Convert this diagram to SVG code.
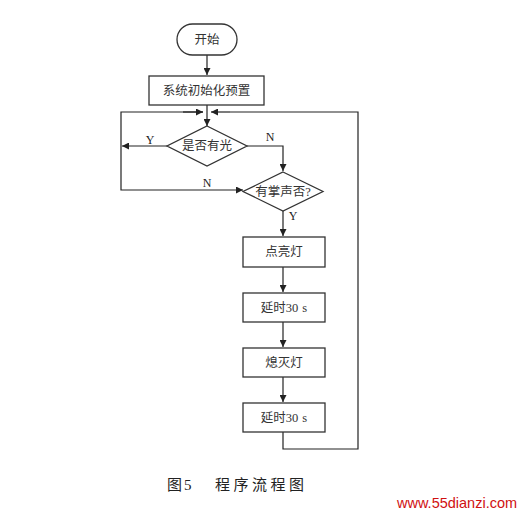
<svg xmlns="http://www.w3.org/2000/svg" width="530" height="515" viewBox="0 0 530 515">
<defs>
<marker id="ah" viewBox="0 0 10 10" refX="10" refY="5" markerWidth="7" markerHeight="7" orient="auto" markerUnits="userSpaceOnUse">
<path d="M0,0 L10,5 L0,10 Z" fill="#222"/>
</marker>
<style>
.shape{fill:#fff;stroke:#333;stroke-width:1.3}
.t{font-family:"Liberation Serif","Noto Sans CJK SC",serif;font-size:12.5px;fill:#333;text-anchor:middle;dominant-baseline:central}
.lbl{font-family:"Liberation Serif","Noto Sans CJK SC",serif;font-size:12px;fill:#222;text-anchor:middle;dominant-baseline:central}
.cap{font-family:"Liberation Serif","Noto Sans CJK SC",serif;font-size:15px;fill:#222;dominant-baseline:central}
.c{fill:none;stroke:#222;stroke-width:1.2}
.a{marker-end:url(#ah)}
</style>
</defs>
<rect width="530" height="515" fill="#fff"/>
<g id="connectors">
<path class="c a" d="M207,55 V75"/>
<path class="c a" d="M207,105 V126"/>
<path class="c a" d="M121,146 V190 H243"/>
<path class="c" d="M121,146 V112 H203"/>
<path class="c a" d="M183,112 H203"/>
<path class="c a" d="M167,146 H122"/>
<path class="c a" d="M247,146 H283 V171"/>
<path class="c a" d="M283,211 V236"/>
<path class="c a" d="M283,267 V292"/>
<path class="c a" d="M283,322 V347"/>
<path class="c a" d="M283,377 V402"/>
<path class="c" d="M283,432 V449 H358 V112 H230"/>
<path class="c a" d="M230,112 H211"/>
<text class="lbl" x="150" y="140">Y</text>
<text class="lbl" x="270" y="137">N</text>
<text class="lbl" x="207" y="183">N</text>
<text class="lbl" x="293" y="216">Y</text>
</g>
<g id="start">
<rect class="shape" x="177" y="24" width="60" height="31" rx="15.5"/>
<text class="t" x="207" y="40">开始</text>
</g>
<g id="init">
<rect class="shape" x="149" y="76" width="115" height="29"/>
<text class="t" x="206.5" y="91">系统初始化预置</text>
</g>
<g id="light">
<polygon class="shape" points="207,126 247,146 207,166 167,146"/>
<text class="t" x="207" y="146">是否有光</text>
</g>
<g id="clap">
<polygon class="shape" points="283,172 323,191.5 283,211 243,191.5"/>
<text class="t" x="283" y="192">有掌声否?</text>
</g>
<g id="on">
<rect class="shape" x="243" y="237" width="82" height="30"/>
<text class="t" x="284" y="252">点亮灯</text>
</g>
<g id="delay1">
<rect class="shape" x="243" y="293" width="82" height="29"/>
<text class="t" x="284" y="307.5">延时30<tspan dx="4">s</tspan></text>
</g>
<g id="off">
<rect class="shape" x="243" y="348" width="82" height="29"/>
<text class="t" x="284" y="362.5">熄灭灯</text>
</g>
<g id="delay2">
<rect class="shape" x="243" y="403" width="82" height="29"/>
<text class="t" x="284" y="417.5">延时30<tspan dx="4">s</tspan></text>
</g>
<text class="cap" x="167" y="485" letter-spacing="2">图5</text>
<text class="cap" x="215" y="485" letter-spacing="3.5">程序流程图</text>
<text x="397" y="503" font-family="Liberation Sans,Arial,sans-serif" font-size="14.5" fill="#d01010" dominant-baseline="central">www.55dianzi.com</text>
</svg>
